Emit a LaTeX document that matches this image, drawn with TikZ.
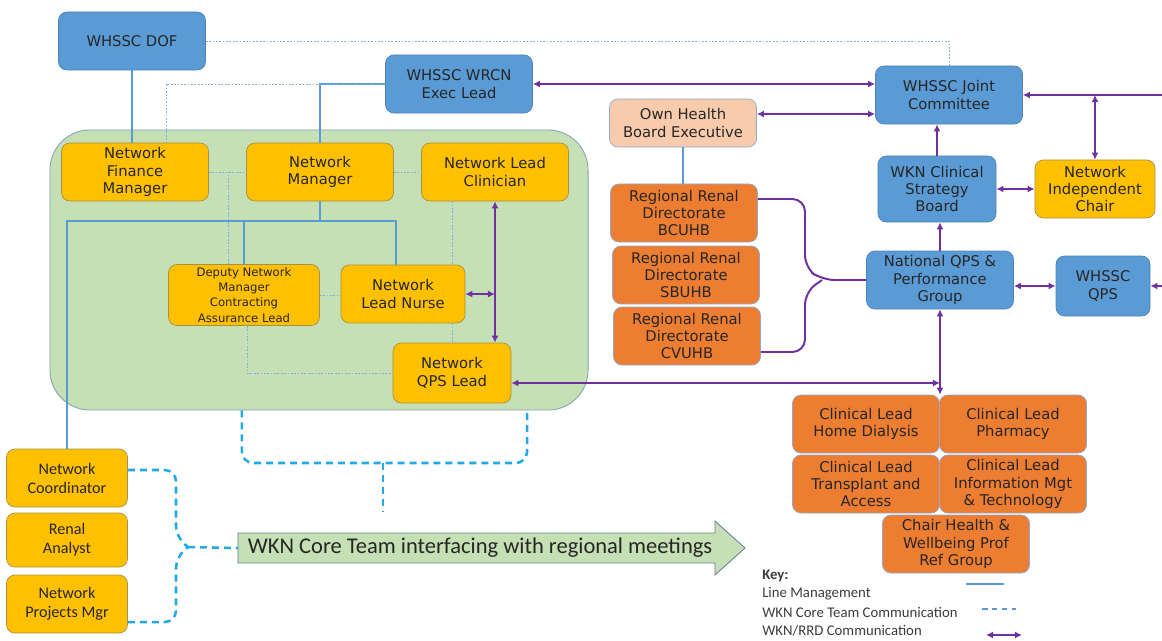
\documentclass[tikz,border=0pt]{standalone}
\usepackage{fontspec}
\setmainfont{DejaVu Sans}
\newfontfamily\calfont{Carlito}
\usetikzlibrary{arrows.meta}
\definecolor{bluefill}{RGB}{91,155,213}
\definecolor{blueedge}{RGB}{80,130,180}
\definecolor{yellowfill}{RGB}{255,192,0}
\definecolor{yellowedge}{RGB}{165,145,70}
\definecolor{orangefill}{RGB}{237,125,49}
\definecolor{peachfill}{RGB}{248,203,173}
\definecolor{softedge}{RGB}{143,170,210}
\definecolor{greenfill}{RGB}{197,224,180}
\definecolor{greenedge}{RGB}{130,160,185}
\definecolor{lmblue}{RGB}{91,155,213}
\definecolor{ctblue}{RGB}{125,175,225}
\definecolor{meetblue}{RGB}{35,170,230}
\definecolor{rrdpurple}{RGB}{112,48,160}
\definecolor{inktext}{RGB}{38,38,38}

\begin{document}
\begin{tikzpicture}[x=0.025cm,y=-0.025cm,
	card/.style={rounded corners=6pt, align=center, inner sep=1pt, text=inktext,
		font=\fontsize{10.5}{12.4}\selectfont, minimum width=3.675cm, minimum height=1.45cm, line width=0.5pt},
	bluebox/.style={card, draw=blueedge, fill=bluefill},
	yellowbox/.style={card, draw=yellowedge, fill=yellowfill},
	orangebox/.style={card, draw=softedge, fill=orangefill},
	peachbox/.style={card, draw=softedge, fill=peachfill},
	lm/.style={draw=lmblue, line width=1.8pt},
	ct/.style={draw=ctblue, line width=0.7pt, dash pattern=on 1.2pt off 1.2pt},
	rrd/.style={draw=rrdpurple, line width=1.4pt, >={Latex[length=5pt,width=5pt]}},
	meet/.style={draw=meetblue, line width=1.8pt, dash pattern=on 5pt off 3.5pt},
	keytext/.style={anchor=west, inner sep=0pt, text=inktext!90, font=\calfont\fontsize{10.5}{12}\selectfont}]
\useasboundingbox (0,0) rectangle (1162,640);

% core team area
\node[draw=greenedge, fill=greenfill, line width=0.6pt, rounded corners=1cm,
	minimum width=13.45cm, minimum height=7cm] (team) at (319,270) {};

\node[bluebox] (dof) at (132,41) {WHSSC DOF};
\node[bluebox] (wrcn) at (459,84) {WHSSC WRCN\\Exec Lead};
\node[bluebox] (jc) at (949,95) {WHSSC Joint\\Committee};
\node[peachbox, minimum height=1.2cm] (ohb) at (683,123) {Own Health\\Board Executive};

\node[yellowbox] (fin) at (135,172) {Network\\Finance\\Manager};
\node[yellowbox] (mgr) at (320,172) {Network\\Manager};
\node[yellowbox] (nlc) at (495,172) {Network Lead\\Clinician};
\node[yellowbox, minimum width=3.775cm, minimum height=1.525cm,
	font=\fontsize{8.3}{10.8}\selectfont] (dep) at (244,295) {Deputy Network\\Manager\\Contracting\\Assurance Lead};
\node[yellowbox, minimum width=3.1cm] (nurse) at (403,294) {Network\\Lead Nurse};
\node[yellowbox, minimum width=2.95cm, minimum height=1.5cm] (qps) at (452,373) {Network\\QPS Lead};

\node[orangebox] (bcu) at (684,213) {Regional Renal\\Directorate\\BCUHB};
\node[orangebox] (sbu) at (686,275) {Regional Renal\\Directorate\\SBUHB};
\node[orangebox] (cvu) at (687,336) {Regional Renal\\Directorate\\CVUHB};

\node[bluebox, minimum width=2.95cm, minimum height=1.65cm] (csb) at (937,189) {WKN Clinical\\Strategy\\Board};
\node[yellowbox, minimum width=3cm] (nic) at (1095,189) {Network\\Independent\\Chair};
\node[bluebox] (nqps) at (940,280) {National QPS \&\\Performance\\Group};
\node[bluebox, minimum width=2.35cm, minimum height=1.5cm] (wqps) at (1103,286) {WHSSC\\QPS};

\node[orangebox] (hd) at (866,424) {Clinical Lead\\Home Dialysis};
\node[orangebox] (ph) at (1013,424) {Clinical Lead\\Pharmacy};
\node[orangebox] (tr) at (866,484) {Clinical Lead\\Transplant and\\Access};
\node[orangebox] (im) at (1013,484) {Clinical Lead\\Information Mgt\\\& Technology};
\node[orangebox] (ch) at (956,544) {Chair Health \&\\Wellbeing Prof\\Ref Group};

\node[yellowbox, minimum width=3.025cm, font=\calfont\fontsize{11.5}{13.5}\selectfont] (coord) at (67,478) {Network\\Coordinator};
\node[yellowbox, minimum width=3.025cm, minimum height=1.35cm, font=\calfont\fontsize{11.5}{13.5}\selectfont] (ana) at (67,540) {Renal\\Analyst};
\node[yellowbox, minimum width=3.025cm, font=\calfont\fontsize{11.5}{13.5}\selectfont] (proj) at (67,604) {Network\\Projects Mgr};

% meetings arrow
\filldraw[fill=greenfill, draw=greenedge!80!black, line width=0.6pt]
	(238,533) -- (715,533) -- (715,521) -- (745,548) -- (715,575) -- (715,563) -- (238,563) -- cycle;
\node[inner sep=0pt, text=inktext, font=\calfont\fontsize{16}{18}\selectfont] (core) at (480,548) {WKN Core Team interfacing with regional meetings};
\coordinate (corein) at (238,548);

% line management
\draw[lm] (dof.south) -- (dof.south |- fin.north);
\draw[lm] (wrcn.west) -| (mgr.north);
\draw[lm] (ohb.south) -- (ohb.south |- bcu.north);
\coordinate (bus) at (320,221);
\draw[lm] (mgr.south) -- (bus);
\draw[lm] (coord.north) |- (bus) -| ([xshift=-0.175cm]nurse.north);
\draw[lm] (dep.north) -- (dep.north |- bus);

% core team communication
\draw[ct] (dof.east) -| (jc.north);
\draw[ct] (wrcn.west) -| ([xshift=0.775cm]fin.north);
\draw[ct] (fin.east) -- (mgr.west);
\draw[ct] ([xshift=-0.4cm]dep.north) -- ([xshift=-0.4cm]dep.north |- fin.east);
\draw[ct] (mgr.east) -- (nlc.west);
\draw[ct] (nlc.south -| qps.north) -- (nurse.north -| qps.north);
\draw[ct] (nurse.south -| qps.north) -- (qps.north);
\draw[ct] (dep.east) -- (dep.east -| nurse.west);
\draw[ct] ([xshift=0.075cm]dep.south) |- (qps.west);

% WKN/RRD communication
\coordinate (jcin) at (1162,95);
\coordinate (wqpsin) at (1162,286);
\draw[rrd, <->] (wrcn.east) -- (wrcn.east -| jc.west);
\draw[rrd, <->] ([yshift=0.225cm]ohb.east) -- ([yshift=0.225cm]ohb.east -| jc.west);
\draw[rrd, ->] (csb.north) -- (csb.north |- jc.south);
\draw[rrd, <->] (csb.east) -- (nic.west);
\draw[rrd, ->] (jcin) -- (jc.east);
\draw[rrd, <->] (nic.north |- jc.east) -- (nic.north);
\draw[rrd, ->] (nqps.north) -- (nqps.north |- csb.south);
\draw[rrd, <->] (nqps.east |- wqps.west) -- (wqps.west);
\draw[rrd, ->] (wqpsin) -- (wqps.east);
\draw[rrd, rounded corners=9pt] ([yshift=0.35cm]bcu.east) -- (805,199) -- (805,268) -- (822,280) -- (nqps.west);
\draw[rrd, rounded corners=9pt] ([yshift=-0.4cm]cvu.east) -- (805,352) -- (805,292) -- (822,280);
\draw[rrd, <->] (nlc.south) -- (nlc.south |- qps.north);
\draw[rrd, <->] (nurse.east) -- (nurse.east -| nlc.south);
\draw[rrd, <->] ([yshift=-0.25cm]qps.east) -- ([yshift=-0.25cm]qps.east -| nqps.south);
\draw[rrd, <->] (nqps.south) -- (nqps.south |- hd.north);

% links to the meetings arrow
\coordinate (meettip) at (383,512);
\draw[meet, rounded corners=8pt] ([xshift=-1.925cm]team.south) |- (meettip |- 0,463) -| ([xshift=5.2cm]team.south);
\draw[meet] (meettip |- 0,463) -- (meettip);
\draw[meet, rounded corners=8pt] ([yshift=0.2cm]coord.east) -| (176,537) -- (188,547);
\draw[meet, rounded corners=8pt] ([yshift=-0.45cm]proj.east) -| (176,557) -- (188,547);
\draw[meet] (188,547) -- (corein);

% key
\node[keytext, font=\calfont\bfseries\fontsize{10.5}{12}\selectfont] (keyhead) at (762,576) {Key:};
\node[keytext] (keylm) at (762,594) {Line Management};
\node[keytext] (keyct) at (762,612) {WKN Core Team Communication};
\node[keytext] (keyrrd) at (762,631) {WKN/RRD Communication};
\coordinate (lma) at (966,584); \coordinate (lmb) at (1004,584);
\coordinate (cta) at (982,609); \coordinate (ctb) at (1016,609);
\coordinate (rra) at (986,635); \coordinate (rrb) at (1022,635);
\draw[lm, line width=1.6pt] (lma) -- (lmb);
\draw[draw=lmblue, line width=0.9pt, dash pattern=on 4pt off 3pt] (cta) -- (ctb);
\draw[rrd, <->] (rra) -- (rrb);
\end{tikzpicture}
\end{document}
